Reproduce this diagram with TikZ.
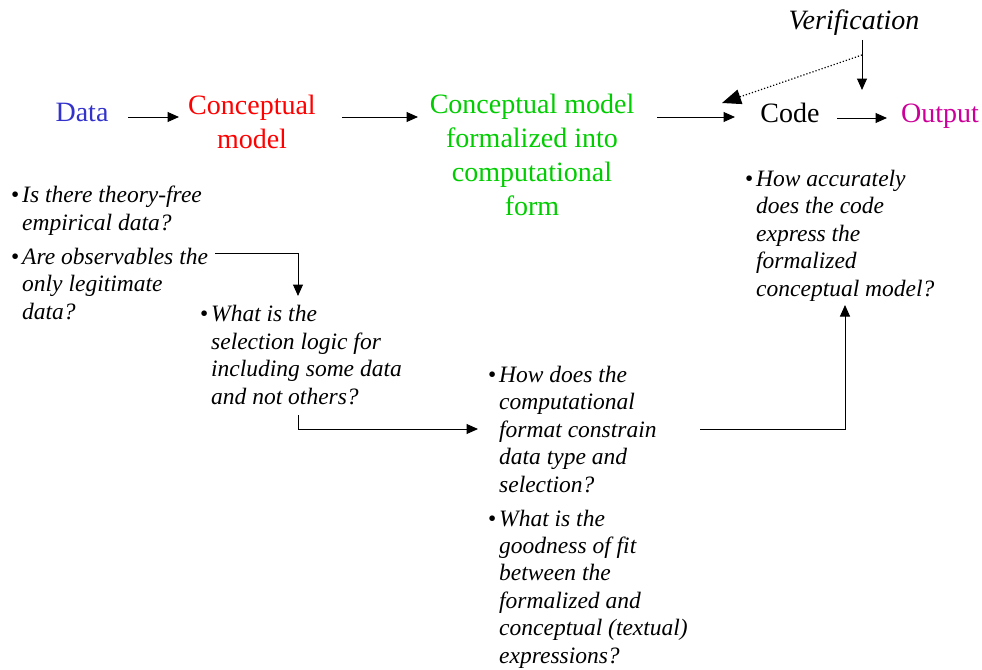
\documentclass[tikz,border=0pt]{standalone}
\usepackage{fontspec}
\setmainfont{Liberation Serif}
\usetikzlibrary{arrows.meta}
\definecolor{cblue}{RGB}{51,51,204}
\definecolor{cred}{RGB}{255,0,0}
\definecolor{cgreen}{RGB}{0,204,0}
\definecolor{cmag}{RGB}{204,0,153}
\newcommand\qbul{\llap{\textbullet\hspace{3pt}}}
\begin{document}
\begin{tikzpicture}[x=1pt,y=-1pt,
  big/.style={font=\fontsize{28}{33.7}\selectfont, inner sep=0pt, align=center, anchor=base},
  qtext/.style={font=\fontsize{23.5}{27.4}\selectfont\itshape, inner sep=0pt, align=left, anchor=base west},
  arr/.style={-{Triangle[length=11.5pt,width=10pt]}, line width=1pt},
  dotarr/.style={dotted, line width=1.2pt, -{Triangle[length=19pt,width=15pt]}},
]
\useasboundingbox (0,0) rectangle (982,669);

% main chain (anchor = baseline of the last line)
\node[big, text=cblue] (data) at (82,121) {Data};
\node[big, text=cred] (cm) at (252,148) {Conceptual\\model};
\node[big, text=cgreen] (cf) at (532,215) {Conceptual model\\formalized into\\computational\\form};
\node[big] (code) at (790,122) {Code};
\node[big, text=cmag] (out) at (940,122) {Output};
\node[big, font=\fontsize{28}{33.7}\selectfont\itshape] (ver) at (854,30) {Verification};

% question blocks
\node[qtext] (q1) at (22,319) {\qbul Is there theory-free\\empirical data?\\[6.5pt]\qbul Are observables the\\only legitimate\\data?};
\node[qtext] (q2) at (211,404) {\qbul What is the\\selection logic for\\including some data\\and not others?};
\node[qtext] (q3) at (499,663) {\qbul How does the\\computational\\format constrain\\data type and\\selection?\\[6.5pt]\qbul What is the\\goodness of fit\\between the\\formalized and\\conceptual (textual)\\expressions?};
\node[qtext] (q4) at (756,296) {\qbul How accurately\\does the code\\express the\\formalized\\conceptual model?};

% connector end points
\coordinate (a1s) at (128,117); \coordinate (a1e) at (179,117);
\coordinate (a2s) at (342,117); \coordinate (a2e) at (418,117);
\coordinate (a3s) at (657,117); \coordinate (a3e) at (735,117);
\coordinate (a4s) at (837,118); \coordinate (a4e) at (887,118);
\coordinate (vs) at (862,40); \coordinate (ve) at (862,90);
\coordinate (ds) at (862,55); \coordinate (de) at (722,103);
\coordinate (b1s) at (215,253); \coordinate (b1e) at (298,296);
\coordinate (b2s) at (298,415); \coordinate (b2e) at (478,429);
\coordinate (b3s) at (700,429); \coordinate (b3e) at (845,305);

\draw[arr] (a1s) -- (a1e);
\draw[arr] (a2s) -- (a2e);
\draw[arr] (a3s) -- (a3e);
\draw[arr] (a4s) -- (a4e);
\draw[arr] (vs) -- (ve);
\draw[dotarr] (ds) -- (de);
\draw[arr] (b1s) -| (b1e);
\draw[arr] (b2s) |- (b2e);
\draw[arr] (b3s) -| (b3e);
\end{tikzpicture}
\end{document}
